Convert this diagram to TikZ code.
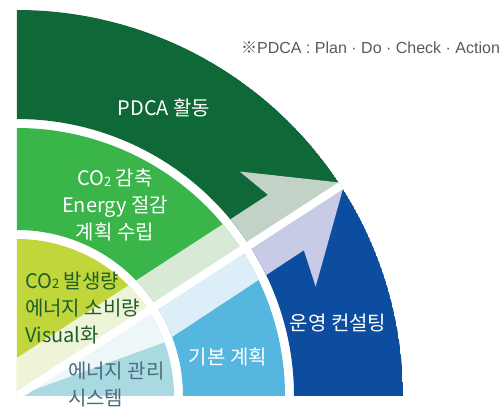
\documentclass[tikz,border=0pt]{standalone}
\usepackage{fontspec}
\setmainfont{Noto Sans CJK KR}
\newfontfamily\notefont{Liberation Sans}
\definecolor{dkgreen}{HTML}{0F6838}
\definecolor{dkgreenp}{HTML}{C3D2C7}
\definecolor{mgreen}{HTML}{3AB54A}
\definecolor{mgreenp}{HTML}{D8EAD5}
\definecolor{ygreen}{HTML}{C0D63A}
\definecolor{ygreenp}{HTML}{EEF4D8}
\definecolor{dkblue}{HTML}{0D4DA0}
\definecolor{dkbluep}{HTML}{C8CBE6}
\definecolor{lblue}{HTML}{55B6E0}
\definecolor{lbluep}{HTML}{DCEEF8}
\definecolor{teal}{HTML}{A9DAE1}
\definecolor{tealp}{HTML}{EDF7F8}
\definecolor{txtgreen}{HTML}{1C5E2E}
\definecolor{txtslate}{HTML}{4B6D7E}
\newcommand{\cotwo}{CO\raisebox{-0.5pt}{\fontsize{13}{13}\selectfont 2}}

\begin{document}
\begin{tikzpicture}[x=1pt,y=1pt,
  lbl/.style={font=\fontsize{20}{27}\selectfont,align=center,text=white,inner sep=0pt},
  lblleft/.style={lbl,align=left,anchor=west}]
  \useasboundingbox (-17,-13) rectangle (486,396);
  \begin{scope}
    \clip (0,0) -- (386,0) arc (0:90:386) -- cycle;
    \foreach \ri/\ro/\cu/\pu/\cl/\pl in {0.01/157/ygreen/ygreenp/teal/tealp,
        166/268/mgreen/mgreenp/lblue/lbluep, 277/386/dkgreen/dkgreenp/dkblue/dkbluep}{%
      \fill[\cu] (33:\ri) arc (33:90:\ri) -- (90:\ro) arc (90:33:\ro) -- cycle;
      \fill[\cl] (0:\ri) arc (0:33:\ri) -- (33:\ro) arc (33:0:\ro) -- cycle;
      \begin{scope}
        \clip (0:\ri) arc (0:90:\ri) -- (90:\ro) arc (90:0:\ro) -- cycle;
        \begin{scope}[rotate=33]
          \fill[\pu] (-60,0) -- (-60,32) -- (320,32) -- (309,67) -- (386,4) -- (390,0) -- cycle;
          \fill[\pl] (0,0) -- (152,-35) -- (320,-34) -- (310,-71) -- (386,-4) -- (390,0) -- cycle;
        \end{scope}
      \end{scope}
    }
    \draw[white,line width=8pt] (0,0) -- (33:400);
  \end{scope}

  \node[lbl] (pdca) at (147,288) {PDCA 활동};
  \node[lbl] (plan) at (98,191) {\cotwo{} 감축\\Energy 절감\\계획 수립};
  \node[lblleft,text=txtgreen] (visual) at (8,88) {\cotwo{} 발생량\\에너지 소비량\\Visual화};
  \node[lblleft,text=txtslate] (system) at (51,11) {에너지 관리\\시스템};
  \node[lbl] (basic) at (211,39) {기본 계획};
  \node[lbl] (consult) at (321,73) {운영 컨설팅};
  \node[font=\fontsize{16}{16}\selectfont,text=black!65,anchor=west,inner sep=0pt] (note) at (224,348)
    {※\notefont PDCA : Plan · Do · Check · Action};
\end{tikzpicture}
\end{document}
